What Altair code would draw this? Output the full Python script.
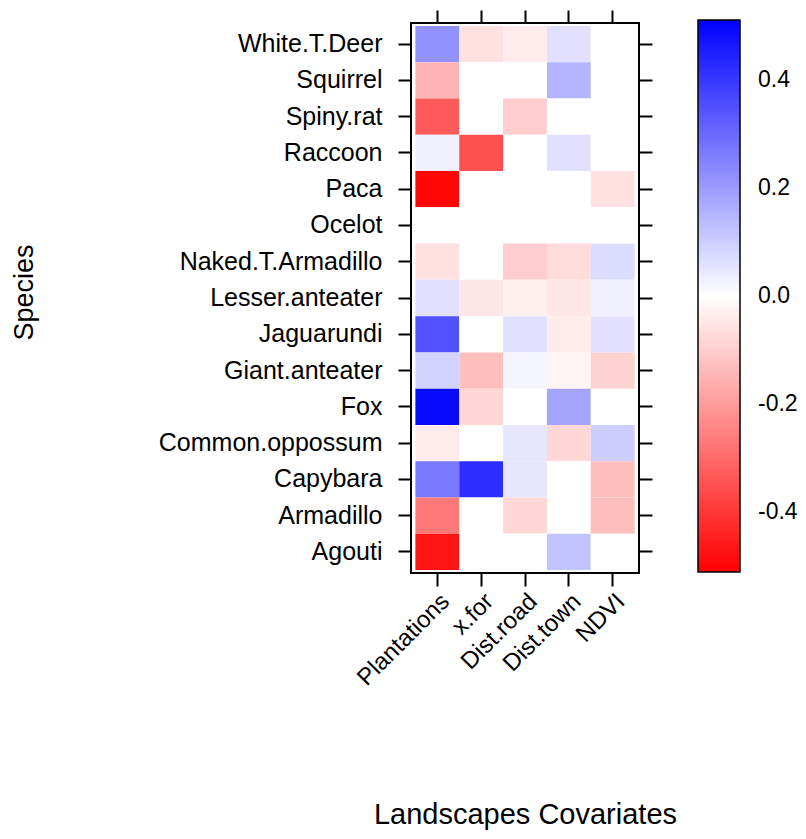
import altair as alt
import pandas as pd

species = ["White.T.Deer", "Squirrel", "Spiny.rat", "Raccoon", "Paca", "Ocelot",
           "Naked.T.Armadillo", "Lesser.anteater", "Jaguarundi", "Giant.anteater",
           "Fox", "Common.oppossum", "Capybara", "Armadillo", "Agouti"]
covariates = ["Plantations", "x.for", "Dist.road", "Dist.town", "NDVI"]

plantations = [0.22, -0.15, -0.33, 0.03, -0.50, 0.0, -0.06, 0.06, 0.35, 0.09, 0.49, -0.04, 0.27, -0.27, -0.47]
x_for       = [-0.06, 0.0, 0.0, -0.35, 0.0, 0.0, 0.0, -0.05, 0.0, -0.13, -0.08, 0.0, 0.42, 0.0, 0.0]
dist_road   = [-0.04, 0.0, -0.10, 0.0, 0.0, 0.0, -0.10, -0.03, 0.06, 0.02, 0.0, 0.05, 0.05, -0.08, 0.0]
dist_town   = [0.06, 0.15, 0.0, 0.06, 0.0, 0.0, -0.07, -0.05, -0.04, -0.02, 0.18, -0.08, 0.0, 0.0, 0.12]
ndvi        = [0.0, 0.0, 0.0, 0.0, -0.06, 0.0, 0.07, 0.03, 0.06, -0.09, 0.0, 0.10, -0.13, -0.13, 0.0]

legend_values = [-0.4, -0.2, 0.0, 0.2, 0.4]

cols = {"Plantations": plantations, "x.for": x_for, "Dist.road": dist_road,
        "Dist.town": dist_town, "NDVI": ndvi}
rows = []
for c in covariates:
    for s, v in zip(species, cols[c]):
        rows.append({"Species": s, "Covariate": c, "value": v})
df = pd.DataFrame(rows)

FONT = "Liberation Sans"

xscale = alt.Scale(domain=covariates, paddingInner=0, paddingOuter=0.1)
yscale = alt.Scale(domain=species, paddingInner=0, paddingOuter=0.08)
cscale = alt.Scale(domain=[-0.51, 0, 0.51], range=["#ff0000", "#ffffff", "#0000ff"],
                   interpolate="rgb")

base = alt.Chart(df)

heat = base.mark_rect().encode(
    x=alt.X("Covariate:N", scale=xscale, sort=covariates,
            axis=alt.Axis(orient="bottom", title="Landscapes Covariates",
                          labelAngle=315, labelAlign="right", labelBaseline="top",
                          labelFontSize=24, labelFont=FONT, labelColor="black",
                          labelLimit=0,
                          tickSize=13, tickWidth=2, tickColor="black", domain=False,
                          labelPadding=3,
                          titleFontSize=29, titleFont=FONT, titleFontWeight="normal",
                          titleColor="black", titleY=256, titleBaseline="bottom")),
    y=alt.Y("Species:N", scale=yscale, sort=species,
            axis=alt.Axis(orient="left", title="Species",
                          labelFontSize=25, labelFont=FONT, labelColor="black",
                          labelLimit=0,
                          tickSize=13, tickWidth=2, tickColor="black", domain=False,
                          labelPadding=16,
                          titleFontSize=27, titleFont=FONT, titleFontWeight="normal",
                          titleColor="black", titleX=-387, titleY=269,
                          titleAlign="center", titleBaseline="middle", titleAngle=270)),
    color=alt.Color("value:Q", scale=cscale,
                    legend=alt.Legend(orient="none", legendX=287, legendY=-3,
                                      direction="vertical", title=None,
                                      gradientLength=552, gradientThickness=42,
                                      gradientStrokeColor="black", gradientStrokeWidth=1.5,
                                      values=legend_values,
                                      labelExpr="replace(format(datum.value, '.1f'), '\u2212', '-')",
                                      labelFontSize=23, labelFont=FONT, labelColor="black",
                                      labelOffset=18)),
)

mirror = base.mark_rect(opacity=0).encode(
    x=alt.X("Covariate:N", scale=xscale, sort=covariates,
            axis=alt.Axis(orient="top", title=None, labels=False, tickSize=13,
                          tickWidth=2, tickColor="black", domain=False)),
    y=alt.Y("Species:N", scale=yscale, sort=species,
            axis=alt.Axis(orient="right", title=None, labels=False, tickSize=13,
                          tickWidth=2, tickColor="black", domain=False)),
)

chart = alt.layer(heat, mirror).resolve_axis(x="independent", y="independent").properties(
    width=228, height=550,
    autosize=alt.AutoSizeParams(type="none"),
    padding={"left": 403, "top": 15, "right": 159, "bottom": 258},
    background="white",
).configure_view(stroke="black", strokeWidth=2)

chart.save("out.html", embed_options={"renderer": "svg", "actions": False})
